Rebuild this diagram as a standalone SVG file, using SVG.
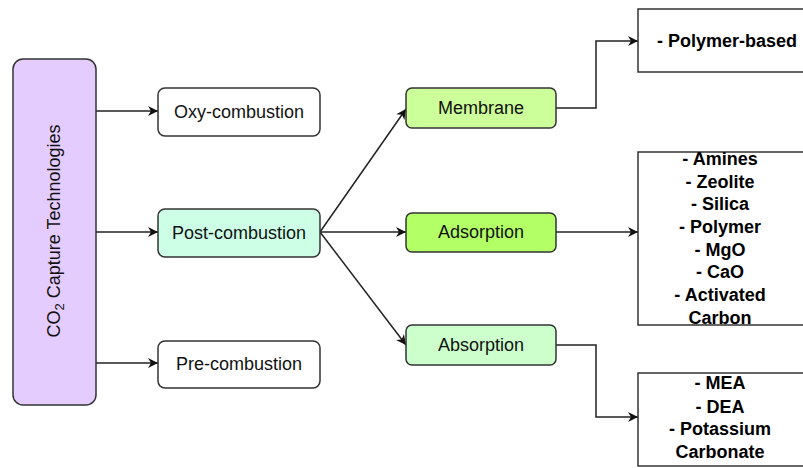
<svg xmlns="http://www.w3.org/2000/svg" width="803" height="468" viewBox="0 0 803 468">
<defs>
<marker id="arr" viewBox="0 0 10 10" refX="10" refY="5" markerWidth="10" markerHeight="10" markerUnits="userSpaceOnUse" orient="auto">
<path d="M0,0 L10,5 L0,10 L3,5 Z" fill="#111"/>
</marker>
</defs>
<style>
.node{stroke:#333;stroke-width:1.5}
.t{font-family:"Liberation Sans",Arial,sans-serif;font-size:18px;fill:#111;text-anchor:middle}
.b{font-family:"Liberation Sans",Arial,sans-serif;font-size:18px;font-weight:bold;fill:#000;text-anchor:middle}
.c{fill:none;stroke:#222;stroke-width:1.5;marker-end:url(#arr)}
</style>
<rect width="803" height="468" fill="#fff"/>
<g id="connectors">
<path class="c" d="M96,111 H158"/>
<path class="c" d="M96,232 H158"/>
<path class="c" d="M96,363 H158"/>
<path class="c" d="M320,232 L406,109"/>
<path class="c" d="M320,232 H406"/>
<path class="c" d="M320,232 L406,345"/>
<path class="c" d="M556,108 H596 V41 H638"/>
<path class="c" d="M556,232 H638"/>
<path class="c" d="M556,345 H596 V417 H638"/>
</g>
<g id="co2">
<rect class="node" x="13" y="59" width="83" height="346" rx="10" fill="#E5CCFF"/>
<text class="t" transform="translate(60,231) rotate(-90)">CO<tspan font-size="13" dy="4">2</tspan><tspan dy="-4"> Capture Technologies</tspan></text>
</g>
<g id="oxy">
<rect class="node" x="158" y="88" width="162" height="48" rx="7" fill="#fff"/>
<text class="t" x="239" y="118">Oxy-combustion</text>
</g>
<g id="post">
<rect class="node" x="158" y="209" width="162" height="48" rx="7" fill="#CCFFE6"/>
<text class="t" x="239" y="239">Post-combustion</text>
</g>
<g id="pre">
<rect class="node" x="158" y="341" width="162" height="47" rx="7" fill="#fff"/>
<text class="t" x="239" y="370">Pre-combustion</text>
</g>
<g id="membrane">
<rect class="node" x="406" y="88" width="150" height="40" rx="6" fill="#CCFF99"/>
<text class="t" x="481" y="114">Membrane</text>
</g>
<g id="adsorption">
<rect class="node" x="406" y="213" width="150" height="39" rx="6" fill="#B3FF66"/>
<text class="t" x="481" y="238">Adsorption</text>
</g>
<g id="absorption">
<rect class="node" x="406" y="325" width="150" height="40" rx="6" fill="#CCFFCC"/>
<text class="t" x="481" y="351">Absorption</text>
</g>
<g id="membrane-list">
<rect class="node" x="638" y="9" width="178" height="63" fill="#fff"/>
<text class="b" x="727" y="47">- Polymer-based</text>
</g>
<g id="adsorption-list">
<rect class="node" x="638" y="152" width="166" height="173" fill="#fff"/>
<text class="b" x="720" y="165">- Amines</text>
<text class="b" x="720" y="188">- Zeolite</text>
<text class="b" x="720" y="210">- Silica</text>
<text class="b" x="720" y="233">- Polymer</text>
<text class="b" x="720" y="256">- MgO</text>
<text class="b" x="720" y="278">- CaO</text>
<text class="b" x="720" y="301">- Activated</text>
<text class="b" x="720" y="324">Carbon</text>
</g>
<g id="absorption-list">
<rect class="node" x="638" y="373" width="166" height="93" fill="#fff"/>
<text class="b" x="720" y="389">- MEA</text>
<text class="b" x="720" y="413">- DEA</text>
<text class="b" x="720" y="435">- Potassium</text>
<text class="b" x="720" y="458">Carbonate</text>
</g>
</svg>
